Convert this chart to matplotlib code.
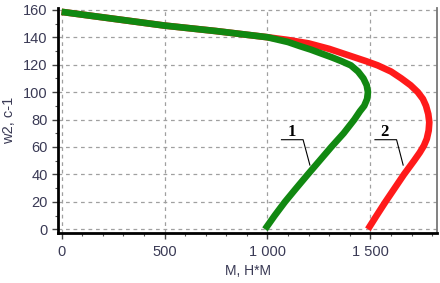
import matplotlib
matplotlib.use("Agg")
import matplotlib.pyplot as plt
from matplotlib.ticker import MultipleLocator, FixedLocator, FixedFormatter

# Curve 1 (green): torque M [N*m] vs speed w2 [1/s]
m1 = [0, 250, 500, 750, 1000, 1100, 1158, 1210, 1255, 1310, 1360, 1405, 1440, 1466, 1482, 1488,
      1484, 1470, 1449, 1422, 1370, 1310, 1253, 1196, 1140, 1085, 1035, 988]
w1 = [158.5, 153.5, 148.5, 144.5, 140, 136.5, 133.5, 131, 128.5, 125.5, 122.5, 119.5, 115, 110, 105, 100,
      95, 90, 86, 80, 70, 60, 50, 40, 30, 20, 10, 0]

# Curve 2 (red)
m2 = [0, 250, 500, 750, 1000, 1100, 1200, 1300, 1400, 1480, 1535, 1600, 1650, 1695, 1730, 1755,
      1770, 1781, 1786, 1783, 1774, 1760, 1740, 1712, 1663, 1618, 1573, 1530, 1488]
w2 = [158.5, 153.5, 148.5, 144.5, 140, 138, 135.5, 131.5, 126.5, 122.5, 119.5, 115, 110, 105, 100, 95,
      90, 84, 78, 72, 66, 61, 56, 50, 40, 30, 20, 10, 0]

x_ticks = [0, 500, 1000, 1500]
x_labels = ["0", "500", "1 000", "1 500"]
y_ticks = [0, 20, 40, 60, 80, 100, 120, 140, 160]
y_labels = [str(v) for v in y_ticks]

curve_labels = ["1", "2"]

plt.rcParams['font.family'] = ['Liberation Sans', 'DejaVu Sans']

fig = plt.figure(figsize=(4.4, 2.83), dpi=100)
ax = fig.add_axes([0.132, 0.1767, 0.861, 0.795])

ax.plot(m2, w2, color="#ff1a1a", lw=4.8, solid_capstyle="butt", solid_joinstyle="round", zorder=3)
ax.plot(m1, w1, color="#118811", lw=4.8, solid_capstyle="butt", solid_joinstyle="round", zorder=4)

ax.set_xlim(-17, 1823)
ax.set_ylim(-2.7, 161.3)

ax.xaxis.set_major_locator(FixedLocator(x_ticks))
ax.xaxis.set_major_formatter(FixedFormatter(x_labels))
ax.yaxis.set_major_locator(FixedLocator(y_ticks))
ax.yaxis.set_major_formatter(FixedFormatter(y_labels))
ax.xaxis.set_minor_locator(MultipleLocator(100))
ax.yaxis.set_minor_locator(MultipleLocator(10))

tc = "#3a3a55"
ax.tick_params(axis="both", which="major", direction="out", length=4, width=1,
               color="#444444", labelsize=10.5, labelcolor=tc)
ax.tick_params(axis="x", which="major", pad=5)
ax.tick_params(axis="both", which="minor", direction="out", length=2.5, width=0.8,
               color="#555555")

ax.grid(True, which="major", color="#a0a0a0", linestyle=(0, (3, 3)), linewidth=0.9)
ax.set_axisbelow(True)

for s in ["left", "bottom"]:
    ax.spines[s].set_color("black")
    ax.spines[s].set_linewidth(2)
ax.spines["right"].set_color("#777777")
ax.spines["right"].set_linewidth(1.3)
ax.spines["top"].set_visible(False)

ax.set_xlabel("M, H*M", fontsize=10, color=tc, labelpad=3)
ax.set_ylabel("w2, c-1", fontsize=10.5, color=tc, labelpad=5)

# curve labels with leader lines
ann = [(1117, 71, 1068, 1173, 1206, 46.8), (1570, 71, 1522, 1627, 1659, 46.8)]
for lab, (tx, ty, ux0, ux1, lx, ly) in zip(curve_labels, ann):
    ax.text(tx, ty, lab, fontsize=12, fontweight="bold", family="Liberation Serif",
            ha="center", va="center", color="black", zorder=6)
    ax.plot([ux0, ux1, lx], [65.3, 65.3, ly], color="black", lw=0.8, zorder=6)

fig.savefig("out.png", dpi=100)
